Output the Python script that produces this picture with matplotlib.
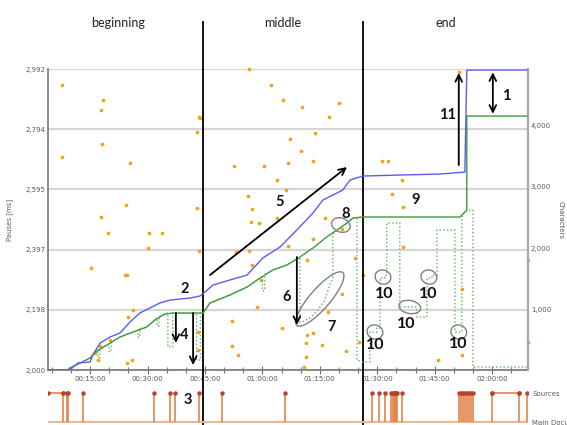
import matplotlib.pyplot as plt
from matplotlib.patches import Ellipse
from matplotlib.transforms import ScaledTranslation, blended_transform_factory
from matplotlib.ticker import FixedLocator, MultipleLocator, FuncFormatter

plt.rcParams['font.family'] = ['DejaVu Sans']

# session time in minutes
t_min, t_max = 4.0, 129.4
phase_edges = [0.0, 44.5, 86.2, 129.4]
phase_names = ['beginning', 'middle', 'end']

# process: all characters produced (blue)
proc_t = [4.0, 9.2, 10.3, 11.8, 15.0, 15.7, 17.6, 20.2, 22.8, 25.4, 28.0, 30.6,
          33.2, 35.9, 41.1, 43.7, 45.0, 47.1, 51.5, 56.0, 60.1, 64.6, 69.0,
          73.2, 75.8, 81.0, 82.9, 86.2, 95.9, 106.3, 112.9, 113.4, 129.1]
proc_c = [0, 0, 33, 115, 131, 246, 443, 541, 606, 787, 934, 1016,
          1098, 1147, 1180, 1213, 1278, 1393, 1475, 1557, 1836, 2016, 2295,
          2573, 2786, 2950, 3114, 3180, 3196, 3212, 3245, 4917, 4917]

# product: characters in the document (green)
prod_t = [4.0, 9.2, 9.7, 12.4, 15.0, 16.3, 19.4, 22.8, 26.2, 29.8, 31.9, 34.5,
          36.6, 44.5, 46.3, 51.5, 56.0, 59.4, 62.7, 66.4, 69.8, 73.2, 76.8,
          79.5, 82.1, 83.6, 86.2, 111.6, 112.4, 113.4, 113.4, 129.1]
prod_c = [0, 0, 33, 115, 197, 295, 410, 541, 623, 705, 820, 918,
          934, 934, 1098, 1229, 1360, 1508, 1639, 1721, 1852, 2000, 2180,
          2295, 2409, 2491, 2508, 2508, 2557, 2622, 4163, 4163]

# cursor position (green dotted)
cur_t = [4.0, 9.2, 9.7, 12.4, 15.0, 16.3, 17.0, 17.0, 17.5, 17.5, 19.4, 20.0,
         20.0, 20.5, 20.5, 22.8, 26.2, 27.5, 27.5, 28.0, 28.0, 29.8, 31.9,
         32.5, 32.5, 33.0, 33.0, 34.5, 35.3, 35.3, 36.6, 36.6, 42.8, 42.8,
         43.8, 43.8, 44.5, 46.3, 51.5, 56.0, 59.4, 60.0, 60.0, 60.6, 60.6,
         62.7, 66.4, 69.8, 69.8, 70.3, 72.4, 74.5, 76.3, 77.6, 78.4, 78.4,
         79.5, 82.1, 83.6, 84.7, 84.7, 86.2, 88.1, 88.1, 89.9, 89.9, 90.7,
         90.7, 92.0, 92.0, 92.5, 92.5, 95.9, 95.9, 100.3, 100.3, 103.0, 103.0,
         104.3, 104.3, 105.6, 105.6, 110.3, 110.3, 112.1, 112.1, 112.4, 113.4,
         115.0, 115.0, 129.1]
cur_c = [0, 0, 33, 115, 197, 295, 295, 200, 200, 330, 410, 410,
         300, 300, 450, 541, 623, 650, 540, 540, 680, 705, 820,
         850, 720, 720, 880, 918, 934, 377, 377, 934, 934, 164,
         164, 934, 934, 1098, 1229, 1360, 1508, 1520, 1300, 1300, 1560,
         1639, 1721, 1852, 787, 787, 852, 983, 1147, 1393, 1508, 2230,
         2295, 2409, 2491, 2491, 164, 131, 131, 623, 623, 688, 688,
         1508, 1508, 1557, 1557, 2409, 2409, 1033, 1033, 869, 869, 1508,
         1508, 1557, 1557, 2295, 2295, 623, 623, 2491, 2557, 2622,
         2622, 49, 49]

# pauses between keystrokes (ms)
pause_t = [7.7, 18.4, 17.8, 18.1, 7.7, 25.4, 43.4, 42.9, 24.4, 17.8, 19.7, 30.4,
           33.8, 30.1, 42.9, 43.4, 15.2, 24.1, 24.6, 26.2, 24.9, 17.6, 16.3,
           17.1, 20.2, 24.6, 25.9, 43.2, 43.2, 56.5, 62.2, 65.4, 70.3, 80.0,
           77.4, 43.7, 73.7, 67.2, 70.1, 66.7, 73.2, 52.6, 60.4, 63.8, 66.1,
           56.2, 57.3, 57.0, 59.1, 63.8, 76.3, 73.2, 66.7, 53.1, 56.5, 71.6,
           57.3, 84.2, 86.2, 80.8, 59.6, 58.6, 52.0, 52.0, 53.6, 65.1, 71.6,
           73.2, 75.5, 71.4, 77.1, 80.8, 81.8, 71.4, 70.8, 85.2, 111.3, 91.2,
           92.8, 96.4, 93.8, 96.7, 96.7, 112.1, 129.3, 129.3, 105.8, 112.1]
pause_ms = [2939, 2890, 2857, 2745, 2702, 2682, 2834, 2784, 2544, 2504, 2452, 2452,
            2452, 2402, 2534, 2392, 2336, 2313, 2313, 2198, 2175, 2079, 2056,
            2033, 2099, 2023, 2033, 2125, 2066, 2992, 2939, 2890, 2867, 2880,
            2834, 2831, 2781, 2761, 2722, 2682, 2689, 2672, 2672, 2626, 2593,
            2574, 2531, 2488, 2485, 2501, 2501, 2432, 2409, 2389, 2392, 2363,
            2346, 2369, 2313, 2465, 2297, 2208, 2162, 2079, 2049, 2138, 2115,
            2122, 2082, 2089, 2191, 2250, 2063, 2043, 2010, 2092, 2982, 2689,
            2689, 2626, 2580, 2537, 2405, 2267, 2363, 2092, 2033, 2049]

# switches between main document and sources
switch_t = [7.9, 9.0, 9.2, 13.1, 31.7, 35.9, 37.2, 43.4, 49.4, 65.9, 88.6, 90.4,
            92.0, 93.6, 94.0, 94.4, 94.7, 94.9, 95.1, 96.4, 111.3, 111.8, 112.4,
            112.9, 113.4, 113.9, 114.4, 115.0, 119.9, 127.0, 129.1]
source_spans = [(4.0, 7.9), (119.9, 127.0)]

pause_ticks = [2000, 2198.4, 2396.8, 2595.2, 2793.6, 2992]
char_ticks = [1000, 2000, 3000, 4000]
time_ticks = [15, 30, 45, 60, 75, 90, 105, 120]

fig = plt.figure(figsize=(5.67, 4.25), dpi=100)
ax = fig.add_axes([0.0847, 0.1294, 0.8466, 0.7082])
ax2 = ax.twinx()
ax3 = fig.add_axes([0.0847, 0.0, 0.8466, 0.094])

tick_col = '#5a5a5a'

# pauses on the left axis
ax.scatter(pause_t, pause_ms, s=7, color='#f5a313', lw=0, zorder=3, clip_on=False)
ax.set_xlim(t_min, t_max)
ax.set_ylim(2000, 2992)
ax.yaxis.set_major_locator(FixedLocator(pause_ticks))
ax.yaxis.set_major_formatter(FuncFormatter(lambda v, p: f'{v:,.0f}'))
ax.grid(axis='y', color='#d6d6d6', lw=1.6)
ax.set_axisbelow(True)
ax.xaxis.set_major_locator(FixedLocator(time_ticks))
ax.xaxis.set_minor_locator(MultipleLocator(5))
ax.xaxis.set_major_formatter(FuncFormatter(
    lambda m, p: f'{int(m // 60):02d}:{int(m % 60):02d}:00'))
ax.tick_params(axis='x', which='major', direction='inout', length=6, width=0.8,
               color='#707070', labelsize=5, labelcolor=tick_col, pad=1)
ax.tick_params(axis='x', which='minor', direction='inout', length=5, width=0.8,
               color='#707070')
ax.tick_params(axis='y', length=0, labelsize=5, labelcolor=tick_col, pad=2)
ax.spines['top'].set_visible(False)
ax.spines['right'].set_visible(False)
for s in ('left', 'bottom'):
    ax.spines[s].set_color('#777777')
    ax.spines[s].set_linewidth(1.2)
ax.set_ylabel('Pauses [ms]', fontsize=5, color=tick_col)
ax.yaxis.set_label_coords(-0.073, 0.5)

# characters on the right axis
ax2.plot(prod_t, prod_c, color='#3d9b3d', lw=1.0, zorder=3)
ax2.plot(cur_t, cur_c, color='#58b558', lw=1.0, ls=':', zorder=2)
ax2.plot(proc_t, proc_c, color='#5c5cf2', lw=1.0, zorder=4)
ax2.set_ylim(0, 4934)
ax2.set_yticks(char_ticks)
ax2.yaxis.set_major_formatter(FuncFormatter(lambda v, p: f'{v:,.0f}'))
ax2.tick_params(axis='y', length=0, labelsize=5, labelcolor=tick_col, pad=2)
for s in ('top', 'left', 'bottom'):
    ax2.spines[s].set_visible(False)
ax2.spines['right'].set_color('#a8a8a8')
ax2.spines['right'].set_linewidth(1.6)
ax2.set_ylabel('Characters', fontsize=5, color=tick_col, rotation=270, va='center')
ax2.yaxis.set_label_coords(1.067, 0.5)

# phase boundaries and headers
for b in phase_edges[1:-1]:
    ax.axvline(b, ymin=-0.183, ymax=1.156, color='black', lw=1.3,
               clip_on=False, zorder=10)
top = blended_transform_factory(ax.transData, ax.transAxes)
for i, name in enumerate(phase_names):
    mid = (phase_edges[i] + phase_edges[i + 1]) / 2
    ax.text(mid, 1.153, name, transform=top, ha='center', va='center',
            fontsize=9, family='Lato', color='#222222')

# source switching strip
ax3.patch.set_visible(False)
ax3.set_xlim(t_min, t_max)
ax3.set_ylim(-0.103, 1.276)
for s in ax3.spines.values():
    s.set_visible(False)
ax3.set_xticks([])
ax3.yaxis.tick_right()
ax3.set_yticks([0, 1])
ax3.set_yticklabels(['Main Documents', 'Sources'])
ax3.tick_params(axis='y', length=0, labelsize=5, labelcolor=tick_col, pad=3)
ax3.axhline(0, color='#f3b58c', lw=1.4)
ax3.vlines(switch_t, 0, 1, color='#e4834a', lw=1.2)
for a, b in source_spans:
    ax3.plot([a, b], [1, 1], color='#e4834a', lw=1.2)
    ax3.plot([a, b], [1, 1], 'o', color='#b8412c', ms=2.2)
ax3.plot(switch_t, [1] * len(switch_t), 'o', color='#b8412c', ms=2.2)


def ring(t, c, w, h, ang=0):
    tr = fig.dpi_scale_trans + ScaledTranslation(t, c, ax2.transData)
    ax2.add_patch(Ellipse((0, 0), w, h, angle=ang, transform=tr, fill=False,
                          ec='#808080', lw=1.0, zorder=6))


def arrow(t0, c0, t1, c1, style='->'):
    ax2.annotate('', xy=(t1, c1), xytext=(t0, c0),
                 arrowprops=dict(arrowstyle=style, color='black', lw=1.3,
                                 shrinkA=0, shrinkB=0, mutation_scale=12),
                 zorder=7)


num = dict(family='Lato', fontweight='bold', fontsize=10.5, color='#111111',
           ha='center', va='center', zorder=8)

ax2.text(123.6, 4491, '1', **num)
arrow(120.2, 4200, 120.2, 4880, '<->')
ax2.text(108.4, 4179, '11', **num)
arrow(111.3, 3360, 111.3, 4868)
ax2.text(39.8, 1328, '2', **num)
ax3.text(40.6, 0.76, '3', **num)
ax2.text(39.5, 574, '4', **num)
arrow(37.4, 934, 37.4, 443)
arrow(41.9, 934, 41.9, 82)
ax2.text(64.6, 2754, '5', **num)
arrow(46.3, 1557, 82.1, 3327)
ax2.text(66.4, 1196, '6', **num)
arrow(69.0, 1852, 69.0, 738)
ax2.text(78.2, 705, '7', **num)
ring(75.0, 1164, 0.70, 0.20, 49)
ax2.text(81.8, 2557, '8', **num)
ring(80.5, 2377, 0.19, 0.14, -20)
ax2.text(100.1, 2786, '9', **num)

num10 = dict(num, fontsize=11.5)
for t, c in [(91.7, 1246), (103.2, 1246), (97.7, 754), (89.4, 410), (111.1, 426)]:
    ax2.text(t, c, '10', **num10)
ring(91.5, 1524, 0.16, 0.14, -20)
ring(103.5, 1524, 0.16, 0.14, -20)
ring(98.5, 1033, 0.22, 0.13, -10)
ring(89.4, 623, 0.16, 0.14, -20)
ring(111.3, 623, 0.16, 0.14, -20)

fig.savefig('out.png', dpi=100)
